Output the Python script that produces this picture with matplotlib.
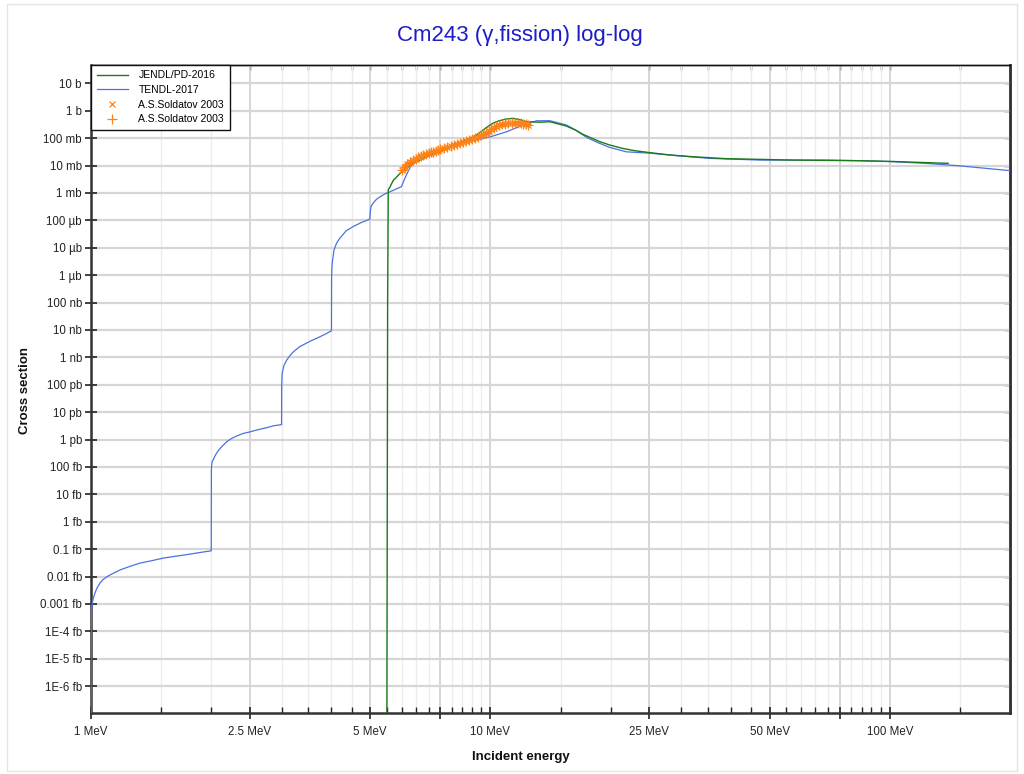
import matplotlib
matplotlib.use("Agg")
import matplotlib.pyplot as plt
from matplotlib.ticker import FixedLocator, FixedFormatter, NullFormatter
from matplotlib.patches import Rectangle

plt.rcParams['font.family'] = ['Liberation Sans', 'DejaVu Sans']

# ---------------- data ----------------
title = "Cm243 (γ,fission) log-log"

# TENDL-2017 (energy MeV, cross section barn)
tendl_e = [1.000, 1.001, 1.002, 1.004, 1.008, 1.013, 1.023, 1.035, 1.053, 1.070, 1.095, 1.130,
           1.182, 1.250, 1.326, 1.420, 1.514, 1.640, 1.769, 1.880, 2.000,
           2.002, 2.006, 2.012, 2.022, 2.040, 2.063, 2.090, 2.125, 2.186, 2.250, 2.316, 2.400,
           2.499, 2.620, 2.753, 2.870, 3.000,
           3.002, 3.010, 3.040, 3.090, 3.150, 3.210, 3.330, 3.540, 3.740, 3.900, 4.000,
           4.003, 4.010, 4.020, 4.060, 4.120, 4.200, 4.350, 4.530, 4.750, 4.990,
           5.010, 5.030, 5.090, 5.180, 5.290, 5.450, 5.610, 5.800, 5.990,
           6.080, 6.160, 6.250, 6.350, 6.500, 6.780, 7.470, 8.230, 9.050, 10.00, 10.97,
           12.08, 13.06, 14.09, 15.50, 16.40, 17.40, 18.60, 19.90, 21.90, 25.10, 29.20,
           35.50, 47.30, 69.50, 84.20, 101.4, 123.0, 149.0, 200.0]
tendl_s = [1e-24, 1e-20, 2.5e-19, 7.8e-19, 1.12e-18, 1.58e-18, 2.5e-18, 3.8e-18, 5.8e-18,
           7.6e-18, 9.8e-18, 1.26e-17, 1.74e-17, 2.34e-17, 3.1e-17, 3.8e-17, 4.7e-17, 5.6e-17,
           6.6e-17, 7.6e-17, 8.7e-17,
           7.8e-14, 1.25e-13, 1.6e-13, 1.8e-13, 2.4e-13, 3.2e-13, 4.2e-13, 5.5e-13, 8.3e-13,
           1.1e-12, 1.35e-12, 1.66e-12, 1.9e-12, 2.3e-12, 2.7e-12, 3.2e-12, 3.5e-12,
           8.5e-11, 2.6e-10, 5.0e-10, 7.9e-10, 1.17e-9, 1.58e-9, 2.45e-9, 3.9e-9, 5.6e-9,
           7.6e-9, 9.3e-9,
           6.8e-7, 1.8e-6, 3.0e-6, 8.3e-6, 1.48e-5, 2.24e-5, 4.1e-5, 5.9e-5, 8.3e-5, 1.1e-4,
           2.4e-4, 3.3e-4, 4.3e-4, 5.75e-4, 7.2e-4, 9.3e-4, 1.1e-3, 1.38e-3, 1.7e-3,
           2.95e-3, 4.5e-3, 6.9e-3, 1.05e-2, 1.41e-2, 1.86e-2, 3.7e-2, 6.3e-2, 8.5e-2,
           0.112, 0.170, 0.302, 0.431, 0.431, 0.302, 0.191, 0.107, 0.068, 0.0457, 0.0316,
           0.0282, 0.0229, 0.0182, 0.0158, 0.0158, 0.0150, 0.0138, 0.0120, 0.0098, 0.0065]

# JENDL/PD-2016
jendl_e = [5.500, 5.530, 5.550, 5.580, 5.613, 5.650, 5.720, 5.800, 5.940, 6.100, 6.290,
           6.500, 6.790, 7.100, 7.470, 7.800, 8.230, 8.600, 9.060, 9.300, 9.600, 9.850,
           10.14, 10.50, 10.97, 11.38, 11.80, 12.30, 13.30, 14.09, 15.50, 16.30, 17.04,
           18.80, 19.90, 21.50, 23.00, 25.10, 28.00, 32.20, 39.00, 57.10, 84.20, 101.4,
           140.0]
jendl_s = [1e-26, 1e-7, 1.28e-3, 1.48e-3, 1.7e-3, 2.1e-3, 2.95e-3, 3.55e-3, 5.2e-3,
           7.1e-3, 1.05e-2, 1.32e-2, 1.82e-2, 2.4e-2, 3.16e-2, 4.2e-2, 6.1e-2, 8.1e-2,
           0.112, 0.141, 0.200, 0.263, 0.347, 0.427, 0.501, 0.525, 0.479, 0.398, 0.380,
           0.398, 0.275, 0.200, 0.138, 0.074, 0.056, 0.0417, 0.0347, 0.0295, 0.0245,
           0.0209, 0.0178, 0.0158, 0.0150, 0.0141, 0.0120]

# A.S.Soldatov 2003 (experimental)
exp_e = [6.00, 6.10, 6.20, 6.30, 6.40, 6.50, 6.60, 6.70, 6.80, 6.90, 7.00, 7.10, 7.20,
         7.30, 7.40, 7.50, 7.65, 7.80, 7.95, 8.10, 8.25, 8.40, 8.55, 8.70, 8.85, 9.00,
         9.15, 9.30, 9.45, 9.60, 9.75, 9.90, 10.05, 10.20, 10.35, 10.50, 10.70, 10.90,
         11.10, 11.30, 11.50, 11.70, 11.90, 12.10, 12.30, 12.45]
exp_s = [0.0069, 0.0090, 0.0110, 0.0132, 0.0153, 0.0176, 0.0198, 0.0218, 0.0240, 0.0262,
         0.0282, 0.0300, 0.0320, 0.0340, 0.0362, 0.0390, 0.0420, 0.0460, 0.0510, 0.0560,
         0.0620, 0.0690, 0.0750, 0.0810, 0.0870, 0.0940, 0.1020, 0.1130, 0.1260, 0.1420,
         0.1600, 0.1850, 0.2100, 0.2400, 0.2700, 0.2950, 0.3150, 0.3350, 0.3450, 0.3500,
         0.3500, 0.3480, 0.3420, 0.3300, 0.3150, 0.3000]

x_major = [1, 2.5, 5, 7.5, 10, 25, 50, 75, 100]
x_major_labels = ["1 MeV", "2.5 MeV", "5 MeV", "", "10 MeV", "25 MeV", "50 MeV", "", "100 MeV"]
x_minor = [1.5, 2, 3, 3.5, 4, 4.5, 5.5, 6, 6.5, 7, 8, 8.5, 9, 9.5,
           15, 20, 30, 35, 40, 45, 55, 60, 65, 70, 80, 85, 90, 95, 150, 200]
y_major = [1e1, 1e0, 1e-1, 1e-2, 1e-3, 1e-4, 1e-5, 1e-6, 1e-7, 1e-8, 1e-9, 1e-10, 1e-11,
           1e-12, 1e-13, 1e-14, 1e-15, 1e-16, 1e-17, 1e-18, 1e-19, 1e-20, 1e-21]
y_labels = ["10 b", "1 b", "100 mb", "10 mb", "1 mb", "100 µb", "10 µb", "1 µb",
            "100 nb", "10 nb", "1 nb", "100 pb", "10 pb", "1 pb", "100 fb", "10 fb",
            "1 fb", "0.1 fb", "0.01 fb", "0.001 fb", "1E-4 fb", "1E-5 fb", "1E-6 fb"]

# ---------------- figure ----------------
fig = plt.figure(figsize=(10.24, 7.74), dpi=100)
fig.patches.append(Rectangle((7/1024, 3/774), 1010/1024, 767/774, transform=fig.transFigure,
                             fill=False, edgecolor='#e4e4e4', linewidth=1.0))
ax = fig.add_axes([91/1024, 61/774, 919/1024, 648.3/774])

ax.set_xscale('log')
ax.set_yscale('log')
ax.set_xlim(1, 200)
ax.set_ylim(1.05e-22, 47.8)

ax.plot(jendl_e, jendl_s, color='#1a7a1a', lw=1.0, label='JENDL/PD-2016', zorder=4)
ax.plot(tendl_e, tendl_s, color='#4a72e0', lw=0.9, label='TENDL-2017', zorder=3)
ax.plot(exp_e, exp_s, linestyle='none', marker='x', ms=5, mew=0.9, color='#ff8217',
        label='A.S.Soldatov 2003', zorder=5)
ax.plot(exp_e, exp_s, linestyle='none', marker='+', ms=7, mew=0.9, color='#ff8217',
        label='A.S.Soldatov 2003', zorder=5)

ax.xaxis.set_major_locator(FixedLocator(x_major))
ax.xaxis.set_major_formatter(FixedFormatter(x_major_labels))
ax.xaxis.set_minor_locator(FixedLocator(x_minor))
ax.xaxis.set_minor_formatter(NullFormatter())
ax.yaxis.set_major_locator(FixedLocator(y_major))
ax.yaxis.set_major_formatter(FixedFormatter(y_labels))
ax.yaxis.set_minor_locator(FixedLocator([]))

ax.grid(True, which='major', axis='y', color='#d6d6d6', lw=1.6, zorder=0)
ax.grid(True, which='major', axis='x', color='#cfcfcf', lw=1.2, zorder=0)
ax.grid(True, which='minor', axis='x', color='#ececec', lw=1.0, zorder=0)
ax.set_axisbelow(True)

ax.tick_params(axis='both', which='major', direction='inout', length=9, width=1.2,
               labelsize=8.3, colors='#222222', top=False, right=False, pad=2)
ax.tick_params(axis='x', which='minor', direction='in', length=4, width=1.0,
               top=False, color='#222222')
ax.tick_params(axis='x', which='major', pad=5)

# top / right inward ticks
axt = ax.secondary_xaxis('top')
axt.xaxis.set_major_locator(FixedLocator(x_major))
axt.xaxis.set_minor_locator(FixedLocator(x_minor))
axt.xaxis.set_major_formatter(NullFormatter())
axt.xaxis.set_minor_formatter(NullFormatter())
axt.tick_params(which='both', direction='in', length=3.5, width=1.0, color='#222222')
axt.spines['top'].set_linewidth(1.0)
axt.spines['top'].set_color('#111111')

axr = ax.secondary_yaxis('right')
axr.yaxis.set_major_locator(FixedLocator(y_major))
axr.yaxis.set_minor_locator(FixedLocator([]))
axr.yaxis.set_major_formatter(NullFormatter())
axr.tick_params(which='both', direction='in', length=4, width=1.0, color='#222222')
axr.spines['right'].set_linewidth(1.8)
axr.spines['right'].set_color('#333333')

for s in ['left', 'bottom', 'right']:
    ax.spines[s].set_linewidth(1.8)
    ax.spines[s].set_color('#333333')
ax.spines['top'].set_linewidth(1.0)
ax.spines['top'].set_color('#111111')

leg = ax.legend(loc='upper left', bbox_to_anchor=(0, 1), borderaxespad=0, fontsize=7.5,
                handlelength=3.0, handletextpad=1.0, labelspacing=0.45, borderpad=0.55,
                fancybox=False, framealpha=1, edgecolor='#111111')
leg.get_frame().set_linewidth(1.0)
leg.set_zorder(10)

fig.text(0.508, 1 - 36/774, title, color='#1c1cc8', fontsize=16, ha='center', va='center')
fig.text(0.509, 1 - 757/774, 'Incident energy', fontsize=9.5, fontweight='bold',
         ha='center', va='center', color='#111111')
fig.text(25/1024, 1 - 390/774, 'Cross section', fontsize=9.5, fontweight='bold',
         ha='center', va='center', rotation=90, color='#111111')

fig.savefig('out.png', dpi=100)
